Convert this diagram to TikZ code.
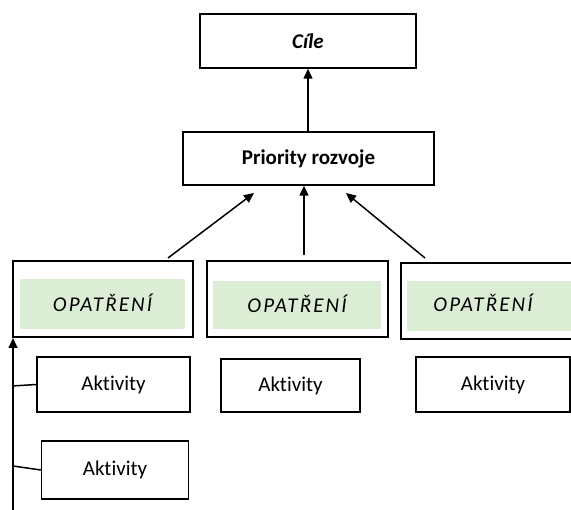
\documentclass[tikz,border=0pt]{standalone}
\usepackage{fontspec}
\setmainfont[Ligatures=NoCommon]{Carlito}
\newfontfamily\spaced[LetterSpace=10,Ligatures=NoCommon]{Carlito}
\usetikzlibrary{arrows.meta}
\definecolor{lightgreen}{HTML}{DCEDD5}
\begin{document}
\begin{tikzpicture}[x=1pt,y=-1pt,
  box/.style={draw,line width=1.5pt,inner sep=0pt},
  greenbox/.style={fill=lightgreen,inner sep=0pt},
  arr/.style={line width=1.5pt,-{Triangle[length=10pt,width=9pt]}},
  ln/.style={line width=1.5pt},
  txt/.style={font=\fontsize{21}{25}\selectfont}]
\useasboundingbox (0,0) rectangle (571,510);
% top
\node[box,minimum width=216pt,minimum height=54pt,txt] (cile) at (308,41) {\textbf{\textit{Cíle}}};
\node[box,minimum width=251pt,minimum height=53pt,txt] (prio) at (308.5,158.5) {\textbf{Priority rozvoje}};
% opatreni outer boxes
\node[box,minimum width=180pt,minimum height=76pt] (o1) at (103,299) {};
\node[box,minimum width=181pt,minimum height=76pt] (o2) at (297.5,299) {};
\draw[line width=1.5pt] (575,263) -- (401,263) -- (401,339) -- (575,339);
\coordinate (o3) at (486,301);
% green
\node[greenbox,minimum width=165pt,minimum height=50pt,txt] (g1) at (102.5,304) {\raisebox{2pt}{\spaced\itshape OPATŘENÍ}};
\node[greenbox,minimum width=168pt,minimum height=48pt,txt] (g2) at (297,305) {\raisebox{2pt}{\spaced\itshape OPATŘENÍ}};
\fill[lightgreen] (407,281) rectangle (571,331);
\node[txt,anchor=center] (g3) at (483,304) {\raisebox{2pt}{\spaced\itshape OPATŘENÍ}};
% aktivity
\node[box,minimum width=153pt,minimum height=55pt,txt] (a1) at (113.5,384.5) {Aktivity};
\node[box,minimum width=147pt,minimum height=58pt,txt] (a2) at (115,470) {Aktivity};
\node[box,minimum width=139pt,minimum height=53pt,txt] (a3) at (290.5,385.5) {Aktivity};
\node[box,minimum width=154pt,minimum height=55pt,txt] (a4) at (493,384.5) {Aktivity};
% arrows
\draw[arr] (prio.north -| cile) -- (cile.south);
\coordinate (s1) at (168,258);
\coordinate (s2) at (304,255);
\coordinate (s3) at (425,258);
\draw[arr] (s1) -- (254,193);
\draw[arr] (s2) -- (s2 |- prio.south);
\draw[arr] (s3) -- (346,193);
% left spine
\coordinate (bot) at (13,510);
\draw[arr] (bot) -- (13,338);
\draw[ln] (12,386) -- (a1.west);
\draw[ln] (13,466) -- (a2.west);
\end{tikzpicture}
\end{document}
